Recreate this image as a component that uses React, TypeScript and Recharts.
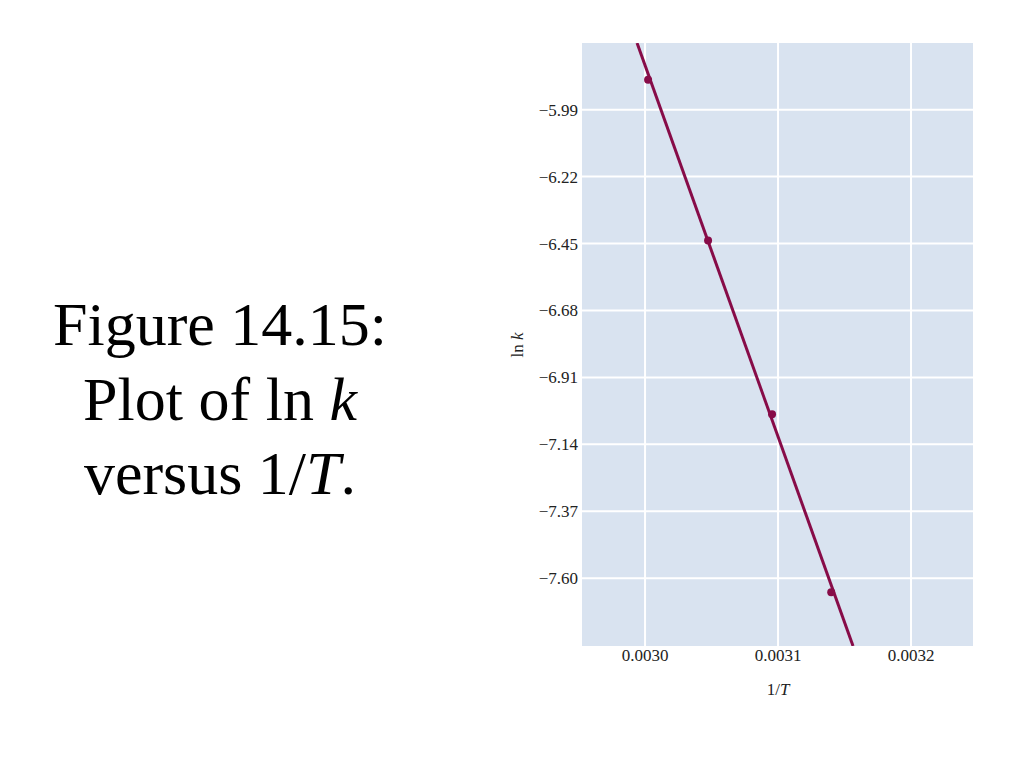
import React from "react";
import { ScatterChart, Scatter, XAxis, YAxis, CartesianGrid } from "recharts";

const invT = [0.0030023, 0.0030474, 0.0030955, 0.00314];
const lnK = [-5.887, -6.44, -7.037, -7.648];
const fitX = [0.002994, 0.0031564];
const fitY = [-5.761, -7.833];
const xTicks = [0.003, 0.0031, 0.0032];
const yTicks = [-7.6, -7.37, -7.14, -6.91, -6.68, -6.45, -6.22, -5.99];
const captionLines = ["Figure 14.15:", "Plot of ln ", "versus 1/"];

const points = invT.map((x, i) => ({ x, y: lnK[i] }));
const fit = fitX.map((x, i) => ({ x, y: fitY[i] }));

const COLOR = "#870c48";
const FONT = "'Liberation Serif', 'Times New Roman', serif";

const fmtY = (v: number) => "\u2212" + Math.abs(v).toFixed(2);

export default function App() {
  return (
    <div style={{ position: "absolute", left: 0, top: 0, width: 1024, height: 768, background: "#fff" }}>
      <div
        style={{
          position: "absolute",
          left: 15,
          top: 287,
          width: 410,
          textAlign: "center",
          fontFamily: FONT,
          fontSize: 62,
          lineHeight: "74.5px",
          color: "#000",
        }}
      >
        <div>{captionLines[0]}</div>
        <div>
          {captionLines[1]}
          <i>k</i>
        </div>
        <div>
          {captionLines[2]}
          <i>T</i>.
        </div>
      </div>
      <div style={{ position: "absolute", left: 500, top: 0 }}>
        <ScatterChart width={490} height={720} margin={{ top: 43, right: 17, bottom: 0, left: 0 }}>
          <CartesianGrid fill="#d9e3f0" stroke="#ffffff" strokeWidth={2} horizontalValues={yTicks} verticalValues={xTicks} />
          <XAxis
            type="number"
            dataKey="x"
            domain={[0.0029526, 0.0032466]}
            ticks={xTicks}
            allowDataOverflow
            tickFormatter={(v: number) => v.toFixed(4)}
            axisLine={false}
            tickLine={false}
            tickSize={0}
            tickMargin={3}
            height={74}
            tick={{ fontFamily: FONT, fontSize: 17, fill: "#222" }}
            label={{
              content: (props: any) => {
                const vb = props.viewBox || {};
                const cx = 778 - 500;
                return (
                  <text x={cx} y={vb.y + 49} textAnchor="middle" fontFamily={FONT} fontSize={17} fill="#222">
                    1/<tspan fontStyle="italic">T</tspan>
                  </text>
                );
              },
            }}
          />
          <YAxis
            type="number"
            dataKey="y"
            domain={[-7.833, -5.761]}
            ticks={yTicks}
            allowDataOverflow
            tickFormatter={fmtY}
            axisLine={false}
            tickLine={false}
            tickSize={0}
            tickMargin={4}
            width={82}
            tick={{ fontFamily: FONT, fontSize: 17, fill: "#222" }}
            label={{
              content: () => (
                <text
                  x={0}
                  y={0}
                  transform={`translate(${523 - 500}, 345) rotate(-90)`}
                  textAnchor="middle"
                  fontFamily={FONT}
                  fontSize={17}
                  fill="#222"
                >
                  ln <tspan fontStyle="italic">k</tspan>
                </text>
              ),
            }}
          />
          <Scatter
            data={fit}
            line={{ stroke: COLOR, strokeWidth: 3 }}
            shape={() => null}
            isAnimationActive={false}
          />
          <Scatter data={points} fill={COLOR} shape={(p: any) => <circle cx={p.cx} cy={p.cy} r={4} fill={COLOR} />} isAnimationActive={false} />
        </ScatterChart>
      </div>
    </div>
  );
}
